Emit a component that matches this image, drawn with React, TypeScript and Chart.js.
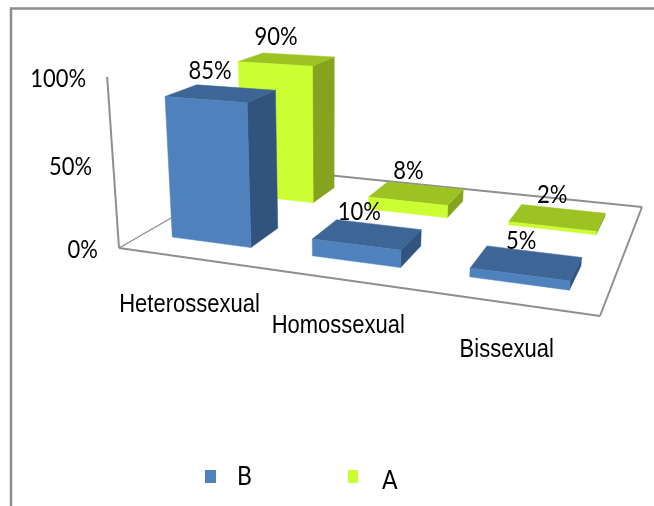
import React, { useEffect, useRef } from "react";
import { Chart, registerables } from "chart.js";

Chart.register(...registerables);

// Chart content
const categories = ["Heterossexual", "Homossexual", "Bissexual"];
const seriesB = [85, 10, 5];
const seriesA = [90, 8, 2];
const valueTicks = [0, 50, 100];

// Face shades of each series: front, top, side
const shadesB = { front: "#4F81BD", top: "#3D6595", side: "#31547F" };
const shadesA = { front: "#CCFF33", top: "#9DC322", side: "#85A31E" };

const FRAME = "#8C8C8C";
const AXIS = "#8F8F8F";

// Floor homography of the unit square (u along categories, d into the page)
// for the corners (119,248) (600,316) (642,207) (258,168).
const quad = [
  [119, 248],
  [600, 316],
  [642, 207],
  [258, 168],
];
function floorMatrix() {
  const [[x0, y0], [x1, y1], [x2, y2], [x3, y3]] = quad;
  const dx1 = x1 - x2, dx2 = x3 - x2, sx = x0 - x1 + x2 - x3;
  const dy1 = y1 - y2, dy2 = y3 - y2, sy = y0 - y1 + y2 - y3;
  const det = dx1 * dy2 - dx2 * dy1;
  const g = (sx * dy2 - dx2 * sy) / det;
  const h = (dx1 * sy - sx * dy1) / det;
  return {
    a: x1 - x0 + g * x1, b: x3 - x0 + h * x3, c: x0,
    d: y1 - y0 + g * y1, e: y3 - y0 + h * y3, f: y0,
    g, h,
  };
}
const M = floorMatrix();
// Vanishing point of the vertical edges and its homogeneous weight per unit of height.
const VP = [330, 3300];
const K = -0.0531;

type Pt = [number, number];
function project(u: number, d: number, v: number): Pt {
  const w = M.g * u + M.h * d + 1;
  const hx = M.a * u + M.b * d + M.c;
  const hy = M.d * u + M.e * d + M.f;
  const kv = K * v;
  return [(hx + kv * VP[0]) / (w + kv), (hy + kv * VP[1]) / (w + kv)];
}

function poly(ctx: CanvasRenderingContext2D, pts: Pt[], fill: string) {
  ctx.beginPath();
  pts.forEach((p, i) => (i ? ctx.lineTo(p[0], p[1]) : ctx.moveTo(p[0], p[1])));
  ctx.closePath();
  ctx.fillStyle = fill;
  ctx.fill();
  ctx.strokeStyle = fill;
  ctx.lineWidth = 0.5;
  ctx.stroke();
}

function line(ctx: CanvasRenderingContext2D, a: Pt, b: Pt, width = 2) {
  ctx.beginPath();
  ctx.moveTo(a[0], a[1]);
  ctx.lineTo(b[0], b[1]);
  ctx.strokeStyle = AXIS;
  ctx.lineWidth = width;
  ctx.stroke();
}

// Text set slightly taller than the font's natural proportions.
function tallText(ctx: CanvasRenderingContext2D, text: string, x: number, y: number, stretch = 1.13) {
  ctx.save();
  ctx.translate(x, y);
  ctx.scale(1, stretch);
  ctx.fillText(text, 0, 0);
  ctx.restore();
}

// Draws the bar chart's elements and axes in perspective: each hidden bar
// element supplies its horizontal span and height through the chart's scales.
const perspectivePlugin = {
  id: "perspective",
  afterDatasetsDraw(chart: any) {
    const { ctx, chartArea: area, scales } = chart;
    const toU = (px: number) => (px - area.left) / (area.right - area.left);
    const toV = (py: number) => (area.bottom - py) / (area.bottom - area.top);

    ctx.save();

    // Border around the chart
    ctx.strokeStyle = FRAME;
    ctx.lineWidth = 2.5;
    ctx.beginPath();
    ctx.moveTo(11, 506);
    ctx.lineTo(11, 8.5);
    ctx.lineTo(654, 8.5);
    ctx.stroke();

    // Floor outline and value axis
    line(ctx, project(0, 0, 0), project(0, 1, 0), 1.3);
    line(ctx, project(0, 1, 0), project(1, 1, 0));
    line(ctx, project(1, 1, 0), project(1, 0, 0));
    line(ctx, project(1, 0, 0), project(0, 0, 0));
    line(ctx, project(0, 0, 0), project(0, 0, 1));

    // Value tick labels
    ctx.fillStyle = "#000";
    ctx.font = "22px Lato";
    ctx.textBaseline = "middle";
    ctx.textAlign = "right";
    valueTicks.forEach((t) => {
      const [x, y] = project(0, 0, toV(scales.y.getPixelForValue(t)));
      tallText(ctx, `${t}%`, x - 21, y + 2);
    });

    // Category labels under the front edge of the floor
    ctx.font = '22px "Liberation Sans"';
    ctx.textAlign = "center";
    categories.forEach((label, i) => {
      const [x, y] = project(toU(scales.x.getPixelForValue(i)), 0, 0);
      tallText(ctx, label, x + 2 - i, y + 47.5);
    });

    // Boxes, back row first; each dataset has its own row in depth
    const boxes: any[] = [];
    chart.data.datasets.forEach((ds: any, di: number) => {
      const meta = chart.getDatasetMeta(di);
      const centre = ds.depthCentre;
      meta.data.forEach((bar: any, i: number) => {
        boxes.push({ bar, ds, i, d0: centre - 0.1, d1: centre + 0.1 });
      });
    });
    boxes.sort((p, q) => q.d0 - p.d0);

    boxes.forEach(({ bar, ds, d0, d1 }) => {
      const u0 = toU(bar.x - bar.width / 2);
      const u1 = toU(bar.x + bar.width / 2);
      const v = toV(bar.y);
      const s = ds.shades;
      poly(ctx, [project(u1, d0, 0), project(u1, d1, 0), project(u1, d1, v), project(u1, d0, v)], s.side);
      poly(ctx, [project(u0, d0, v), project(u1, d0, v), project(u1, d1, v), project(u0, d1, v)], s.top);
      poly(ctx, [project(u0, d0, 0), project(u1, d0, 0), project(u1, d0, v), project(u0, d0, v)], s.front);
    });

    // Value labels above the top faces
    ctx.fillStyle = "#000";
    ctx.font = "22px Lato";
    boxes.forEach(({ bar, ds, i, d0, d1 }) => {
      const uc = toU(bar.x);
      const [x, y] = project(uc, (d0 + d1) / 2, toV(bar.y));
      tallText(ctx, `${ds.data[i]}%`, x - 12 + 8 * uc, y - 22);
    });

    // Legend
    ctx.font = "23px Lato";
    ctx.textAlign = "left";
    const legend = [
      { ds: chart.data.datasets[0], mx: 205, mw: 11, my: 470, mh: 13, tx: 237, ty: 477 },
      { ds: chart.data.datasets[1], mx: 348, mw: 10, my: 470, mh: 13, tx: 382, ty: 481 },
    ];
    legend.forEach(({ ds, mx, mw, my, mh, tx, ty }) => {
      ctx.fillStyle = ds.shades.front;
      ctx.fillRect(mx, my, mw, mh);
      ctx.fillStyle = "#000";
      tallText(ctx, ds.label, tx, ty);
    });

    ctx.restore();
  },
};

export default function App() {
  const ref = useRef<HTMLCanvasElement>(null);
  useEffect(() => {
    document.body.style.margin = "0";
    const chart = new Chart(ref.current!, {
      type: "bar",
      data: {
        labels: categories,
        datasets: [
          { label: "B", data: seriesB, backgroundColor: "transparent", grouped: false, depthCentre: 0.25, shades: shadesB } as any,
          { label: "A", data: seriesA, backgroundColor: "transparent", grouped: false, depthCentre: 0.75, shades: shadesA } as any,
        ],
      },
      options: {
        animation: false,
        responsive: false,
        layout: { padding: 0 },
        categoryPercentage: 0.575,
        barPercentage: 1,
        plugins: { legend: { display: false }, tooltip: { enabled: false }, title: { display: false } },
        scales: {
          x: { display: false },
          y: { display: false, min: 0, max: 100 },
        },
      } as any,
      plugins: [perspectivePlugin],
    });
    return () => chart.destroy();
  }, []);
  return <canvas ref={ref} width={654} height={506} style={{ display: "block" }} />;
}
